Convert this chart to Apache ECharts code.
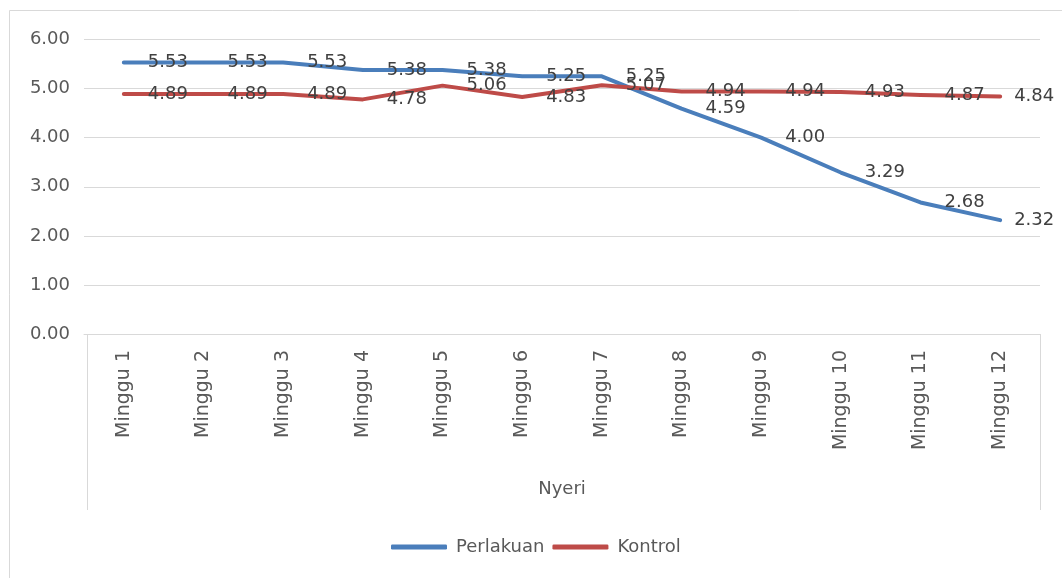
<!DOCTYPE html>
<html>
<head>
<meta charset="utf-8">
<script src="https://cdn.jsdelivr.net/npm/echarts@6/dist/echarts.min.js"></script>
<style>html,body{margin:0;padding:0;background:#fff;}#c{width:1062px;height:578px;}</style>
</head>
<body>
<div id="c"></div>
<script>
const categories = ['Minggu 1','Minggu 2','Minggu 3','Minggu 4','Minggu 5','Minggu 6','Minggu 7','Minggu 8','Minggu 9','Minggu 10','Minggu 11','Minggu 12'];
const perlakuan = [5.53, 5.53, 5.53, 5.38, 5.38, 5.25, 5.25, 4.59, 4.00, 3.29, 2.68, 2.32];
const kontrol = [4.89, 4.89, 4.89, 4.78, 5.06, 4.83, 5.07, 4.94, 4.94, 4.93, 4.87, 4.84];
const seriesNames = ['Perlakuan', 'Kontrol'];
const axisTitle = 'Nyeri';

const FONT = 'DejaVu Sans';
const chart = echarts.init(document.getElementById('c'), null, {renderer: 'canvas'});

function buildData(arr) {
  return arr.map((v, i) => i === arr.length - 1 ? {value: v, label: {distance: 13}} : v);
}
function mkSeries(name, arr, color) {
  return {
    name: name, type: 'line', data: buildData(arr),
    symbol: 'circle', symbolSize: 2, showSymbol: true,
    itemStyle: {color: color},
    lineStyle: {color: color, width: 4, cap: 'round', join: 'round'},
    label: {show: true, position: 'right', distance: 23, color: '#404040',
      fontFamily: FONT, fontSize: 18,
      formatter: p => Number(p.value).toFixed(2)},
    emphasis: {disabled: true},
    animation: false
  };
}

chart.setOption({
  animation: false,
  backgroundColor: '#fff',
  textStyle: {fontFamily: FONT},
  grid: {left: 84, right: 22, top: 39.5, bottom: 244, containLabel: false},
  xAxis: {
    type: 'category', data: categories, boundaryGap: true,
    axisLine: {lineStyle: {color: '#d9d9d9', width: 1}},
    axisTick: {show: false},
    axisLabel: {rotate: 90, margin: 16, color: '#595959', fontFamily: FONT, fontSize: 19, interval: 0},
    name: axisTitle, nameLocation: 'middle', nameGap: 146,
    nameTextStyle: {color: '#595959', fontFamily: FONT, fontSize: 18}
  },
  yAxis: {
    type: 'value', min: 0, max: 6, interval: 1,
    axisLine: {show: false}, axisTick: {show: false},
    splitLine: {lineStyle: {color: '#d9d9d9', width: 1}},
    axisLabel: {margin: 14, color: '#595959', fontFamily: FONT, fontSize: 18,
      formatter: v => v.toFixed(2)}
  },
  legend: {
    data: seriesNames.map(n => ({name: n, icon: 'roundRect'})),
    left: 386, top: 533, itemWidth: 56, itemHeight: 5, itemGap: 8,
    textStyle: {color: '#595959', fontFamily: FONT, fontSize: 18, padding: [0, 0, 0, 4]}
  },
  graphic: [
    {type: 'rect', shape: {x: 9.5, y: 10.5, width: 1100, height: 700}, style: {fill: 'none', stroke: '#d9d9d9', lineWidth: 1}, silent: true},
    {type: 'line', shape: {x1: 87.5, y1: 334, x2: 87.5, y2: 510}, style: {stroke: '#d9d9d9', lineWidth: 1}, silent: true},
    {type: 'line', shape: {x1: 1040.5, y1: 334, x2: 1040.5, y2: 510}, style: {stroke: '#d9d9d9', lineWidth: 1}, silent: true}
  ],
  series: [
    mkSeries(seriesNames[0], perlakuan, '#4A7EBB'),
    mkSeries(seriesNames[1], kontrol, '#BE4B48')
  ]
});
</script>
</body>
</html>
